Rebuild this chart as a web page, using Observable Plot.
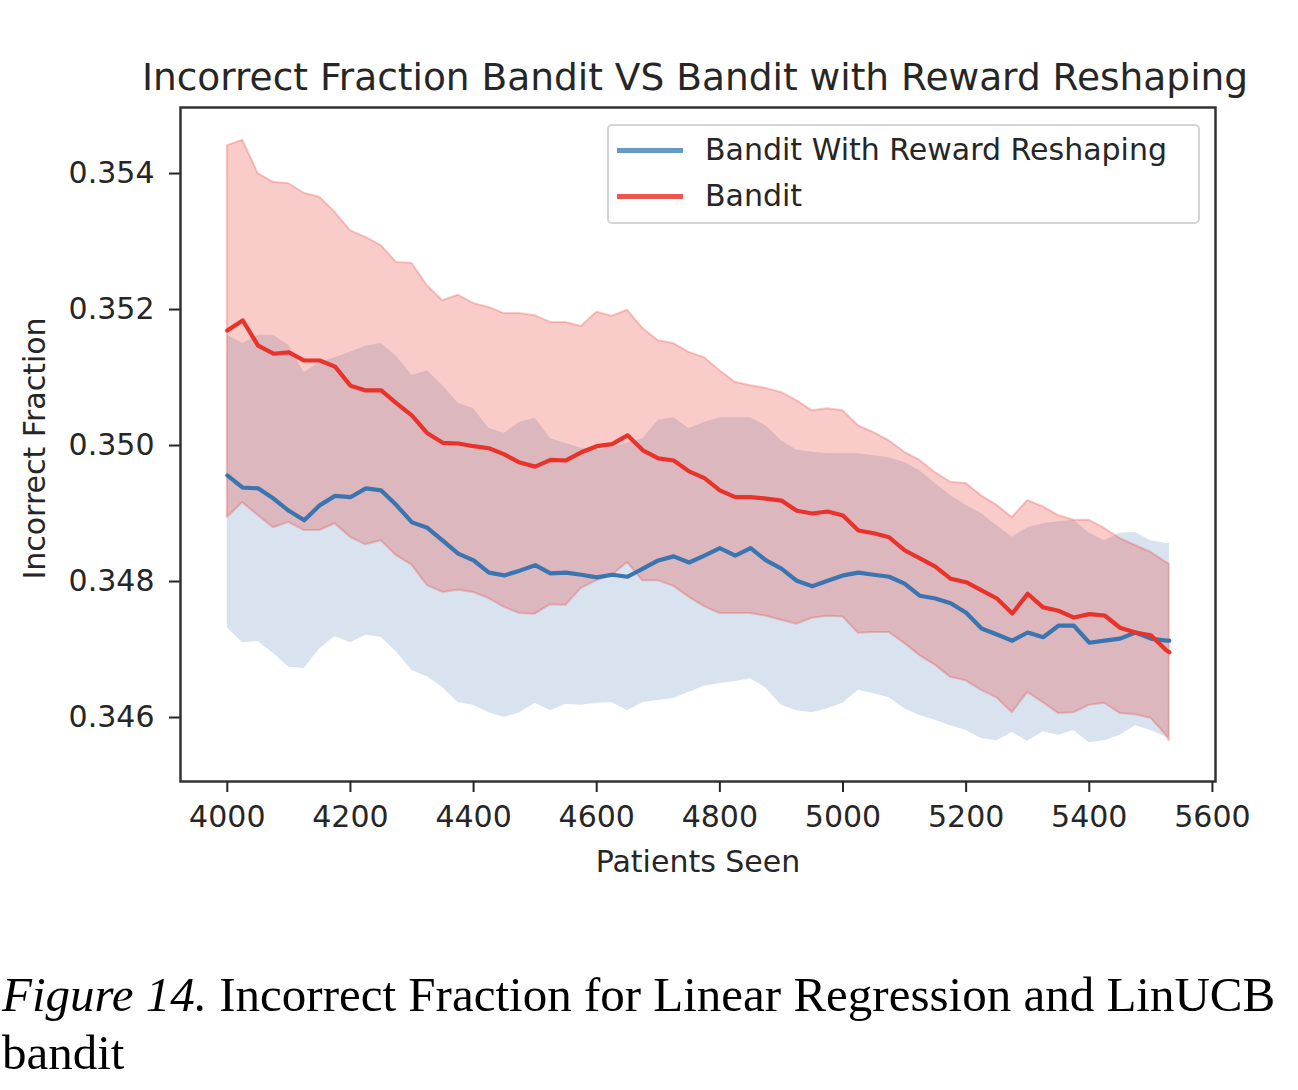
<!DOCTYPE html>
<html>
<head>
<meta charset="utf-8">
<script src="https://cdn.jsdelivr.net/npm/d3@7"></script>
<script src="https://cdn.jsdelivr.net/npm/@observablehq/plot@0.6"></script>
<style>
  html, body { margin: 0; padding: 0; background: white; }
  #wrap { position: relative; width: 1298px; height: 1090px; overflow: hidden; }
  #legend { position: absolute; left: 607px; top: 124px; width: 589px; height: 96px;
            border: 2px solid #d4d4d4; border-radius: 5px; background: rgba(255,255,255,0.8);
            font-family: "DejaVu Sans"; font-size: 30px; color: #262626; }
  .item { position: absolute; left: 0; height: 40px; width: 100%; }
  .swatch { position: absolute; left: 8px; width: 66px; height: 5px; top: 18px; }
  .lab { position: absolute; left: 96px; top: 0; line-height: 40px; white-space: nowrap; }
  #caption { position: absolute; left: 2px; top: 966px; width: 1296px;
             font-family: "Liberation Serif", "Times New Roman", serif; font-size: 49px;
             line-height: 58px; color: #000; white-space: nowrap; }
</style>
</head>
<body>
<div id="wrap">
  <div id="chart"></div>
  <div id="legend">
    <div class="item" style="top:4px"><div class="swatch" style="background:#6699c4"></div><div class="lab">Bandit With Reward Reshaping</div></div>
    <div class="item" style="top:50px"><div class="swatch" style="background:#ee5550"></div><div class="lab">Bandit</div></div>
  </div>
  <div id="caption"><i>Figure 14.</i> Incorrect Fraction for Linear Regression and LinUCB<br>bandit</div>
</div>
<script>
const patients = [4000,4025,4050,4075,4100,4125,4150,4175,4200,4225,4250,4275,4300,4325,4350,4375,4400,4425,4450,4475,4500,4525,4550,4575,4600,4625,4650,4675,4700,4725,4750,4775,4800,4825,4850,4875,4900,4925,4950,4975,5000,5025,5050,5075,5100,5125,5150,5175,5200,5225,5250,5275,5300,5325,5350,5375,5400,5425,5450,5475,5500,5525,5530];

// Bandit With Reward Reshaping (blue)
const reshapeMean = [0.34956,0.34938,0.34937,0.34922,0.34904,0.34890,0.34912,0.34926,0.34924,0.34937,0.34934,0.34912,0.34887,0.34879,0.34860,0.34841,0.34831,0.34813,0.34809,0.34816,0.34824,0.34812,0.34813,0.34810,0.34806,0.34810,0.34807,0.34819,0.34831,0.34837,0.34828,0.34838,0.34849,0.34838,0.34849,0.34831,0.34819,0.34801,0.34793,0.34801,0.34809,0.34813,0.34810,0.34807,0.34797,0.34779,0.34775,0.34768,0.34754,0.34731,0.34722,0.34713,0.34725,0.34718,0.34735,0.34735,0.34710,0.34713,0.34716,0.34725,0.34716,0.34713,0.34713];
const reshapeUpper = [0.35162,0.35150,0.35162,0.35162,0.35147,0.35107,0.35122,0.35129,0.35137,0.35146,0.35150,0.35131,0.35103,0.35110,0.35088,0.35062,0.35054,0.35025,0.35018,0.35034,0.35040,0.35010,0.35003,0.34996,0.34993,0.34997,0.35004,0.35010,0.35037,0.35041,0.35025,0.35034,0.35041,0.35041,0.35041,0.35029,0.35007,0.34993,0.34990,0.34988,0.34988,0.34988,0.34985,0.34982,0.34975,0.34963,0.34944,0.34926,0.34912,0.34900,0.34882,0.34865,0.34879,0.34885,0.34888,0.34890,0.34871,0.34860,0.34871,0.34872,0.34860,0.34856,0.34856];
const reshapeLower = [0.34732,0.34710,0.34712,0.34694,0.34674,0.34672,0.34701,0.34719,0.34710,0.34721,0.34718,0.34696,0.34669,0.34660,0.34644,0.34622,0.34618,0.34607,0.34600,0.34607,0.34621,0.34610,0.34619,0.34618,0.34621,0.34622,0.34610,0.34622,0.34625,0.34628,0.34637,0.34646,0.34650,0.34653,0.34657,0.34643,0.34618,0.34610,0.34607,0.34613,0.34621,0.34640,0.34635,0.34629,0.34613,0.34603,0.34596,0.34588,0.34581,0.34569,0.34566,0.34578,0.34565,0.34579,0.34574,0.34581,0.34563,0.34566,0.34574,0.34588,0.34581,0.34571,0.34569];

// Bandit (red)
const banditMean = [0.35169,0.35184,0.35147,0.35135,0.35137,0.35125,0.35125,0.35116,0.35088,0.35081,0.35081,0.35062,0.35044,0.35018,0.35004,0.35003,0.34999,0.34996,0.34987,0.34975,0.34969,0.34979,0.34978,0.34990,0.34999,0.35002,0.35015,0.34993,0.34981,0.34978,0.34962,0.34952,0.34934,0.34924,0.34924,0.34922,0.34919,0.34904,0.34900,0.34903,0.34897,0.34875,0.34871,0.34865,0.34846,0.34834,0.34822,0.34804,0.34799,0.34787,0.34775,0.34753,0.34782,0.34762,0.34757,0.34747,0.34752,0.34750,0.34732,0.34725,0.34721,0.34699,0.34696];
const banditUpper = [0.35441,0.35449,0.35400,0.35387,0.35385,0.35371,0.35365,0.35343,0.35316,0.35306,0.35294,0.35269,0.35268,0.35235,0.35213,0.35221,0.35209,0.35203,0.35194,0.35194,0.35191,0.35181,0.35181,0.35175,0.35196,0.35190,0.35199,0.35172,0.35154,0.35150,0.35137,0.35129,0.35110,0.35093,0.35088,0.35084,0.35078,0.35066,0.35051,0.35054,0.35051,0.35029,0.35019,0.35007,0.34990,0.34978,0.34960,0.34946,0.34944,0.34926,0.34912,0.34894,0.34919,0.34910,0.34897,0.34890,0.34890,0.34878,0.34863,0.34853,0.34843,0.34828,0.34826];
const banditLower = [0.34894,0.34916,0.34897,0.34879,0.34887,0.34875,0.34875,0.34885,0.34865,0.34854,0.34860,0.34838,0.34824,0.34794,0.34784,0.34787,0.34784,0.34775,0.34762,0.34753,0.34752,0.34766,0.34765,0.34790,0.34801,0.34809,0.34828,0.34801,0.34801,0.34793,0.34777,0.34763,0.34753,0.34753,0.34753,0.34749,0.34743,0.34737,0.34746,0.34749,0.34748,0.34724,0.34725,0.34725,0.34709,0.34691,0.34677,0.34659,0.34654,0.34640,0.34629,0.34607,0.34637,0.34622,0.34606,0.34607,0.34618,0.34621,0.34606,0.34604,0.34599,0.34574,0.34566];

const xTicks = [4000,4200,4400,4600,4800,5000,5200,5400,5600];
const yTicks = [0.346,0.348,0.350,0.352,0.354];

const titleText = "Incorrect Fraction Bandit VS Bandit with Reward Reshaping";
const xLabel = "Patients Seen";
const yLabel = "Incorrect Fraction";

const rows = patients.map((p, i) => ({
  p,
  rm: reshapeMean[i], ru: reshapeUpper[i], rl: reshapeLower[i],
  bm: banditMean[i], bu: banditUpper[i], bl: banditLower[i]
}));

const blue = "#3a75b0";
const red = "#e8322a";

const chart = Plot.plot({
  width: 1298,
  height: 900,
  marginLeft: 180,
  marginRight: 83,
  marginTop: 107,
  marginBottom: 119,
  style: {fontFamily: "DejaVu Sans", fontSize: "30px", color: "#262626", background: "white", overflow: "visible"},
  x: {domain: [3924, 5605]},
  y: {domain: [0.345059, 0.354971]},
  marks: [
    Plot.areaY(rows, {x: "p", y1: "rl", y2: "ru", fill: blue, fillOpacity: 0.2}),
    Plot.areaY(rows, {x: "p", y1: "bl", y2: "bu", fill: "#e6332a", fillOpacity: 0.25, stroke: "#e6332a", strokeOpacity: 0.25, strokeWidth: 2}),
    Plot.line(rows, {x: "p", y: "rm", stroke: blue, strokeWidth: 4.2}),
    Plot.line(rows, {x: "p", y: "bm", stroke: red, strokeWidth: 4.2}),
    Plot.frame({stroke: "#333", strokeWidth: 2.5}),
    Plot.axisX({ticks: xTicks, tickFormat: d3.format("d"), tickSize: 11, tickPadding: 13, strokeWidth: 2, fontSize: 30, label: null}),
    Plot.axisY({ticks: yTicks, tickFormat: d3.format(".3f"), tickSize: 11, tickPadding: 15, strokeWidth: 2, fontSize: 30, label: null}),
    Plot.text([titleText], {text: d => d, frameAnchor: "top", dx: -3, dy: -30, lineAnchor: "middle", textAnchor: "middle", fontSize: 37.5, fill: "#262626"}),
    Plot.text([xLabel], {text: d => d, frameAnchor: "bottom", dy: 81, lineAnchor: "middle", textAnchor: "middle", fontSize: 30, fill: "#262626"}),
    Plot.text([yLabel], {text: d => d, frameAnchor: "left", dx: -145, dy: 4, rotate: -90, lineAnchor: "middle", textAnchor: "middle", fontSize: 30, fill: "#262626"})
  ]
});
document.getElementById("chart").appendChild(chart);
</script>
</body>
</html>
